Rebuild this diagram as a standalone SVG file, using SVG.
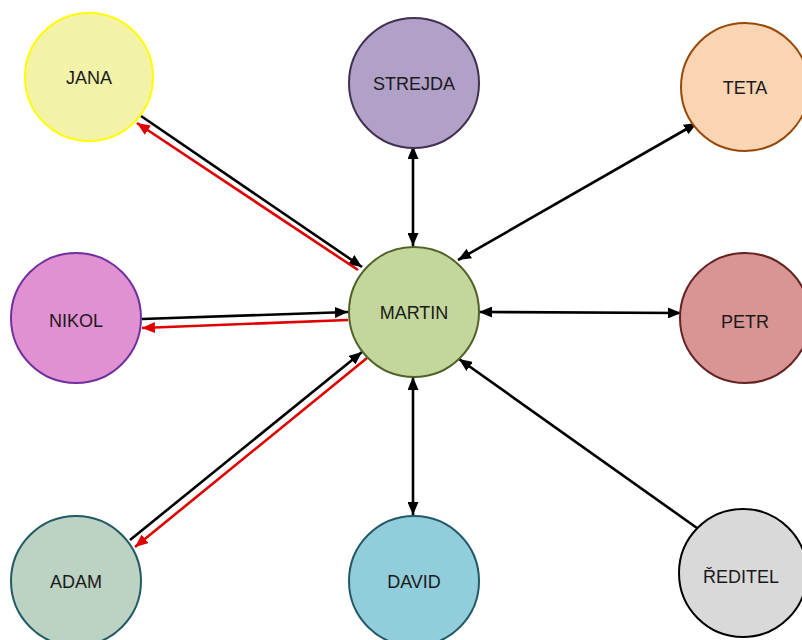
<svg xmlns="http://www.w3.org/2000/svg" width="802" height="640" viewBox="0 0 802 640">
<defs>
<marker id="ab" viewBox="0 0 13 11" refX="13" refY="5.5" markerWidth="13" markerHeight="11" markerUnits="userSpaceOnUse" orient="auto-start-reverse"><path d="M0,0 L13,5.5 L0,11 Z" fill="#000"/></marker>
<marker id="ar" viewBox="0 0 13 11" refX="13" refY="5.5" markerWidth="13" markerHeight="11" markerUnits="userSpaceOnUse" orient="auto-start-reverse"><path d="M0,0 L13,5.5 L0,11 Z" fill="#e00000"/></marker>
</defs>
<style>
.n circle{stroke-width:2}
.n text{font-family:"Liberation Sans",Arial,sans-serif;font-size:18px;fill:#1a1a1a;text-anchor:middle;dominant-baseline:central}
.k{stroke:#000;stroke-width:2.6;fill:none}
.r{stroke:#e00000;stroke-width:2.6;fill:none}
</style>
<rect width="802" height="640" fill="#fff"/>
<g id="connectors">
<line class="k" x1="141" y1="116" x2="362" y2="267" marker-end="url(#ab)"/>
<line class="r" x1="358" y1="270" x2="137" y2="123" marker-end="url(#ar)"/>
<line class="k" x1="142" y1="319" x2="348" y2="312" marker-end="url(#ab)"/>
<line class="r" x1="348" y1="320" x2="142" y2="328" marker-end="url(#ar)"/>
<line class="k" x1="130" y1="540" x2="362" y2="352" marker-end="url(#ab)"/>
<line class="r" x1="367" y1="358" x2="135" y2="547" marker-end="url(#ar)"/>
<line class="k" x1="413" y1="146" x2="413" y2="246" marker-start="url(#ab)" marker-end="url(#ab)"/>
<line class="k" x1="413" y1="377" x2="413" y2="515" marker-start="url(#ab)" marker-end="url(#ab)"/>
<line class="k" x1="458" y1="260" x2="697" y2="123" marker-start="url(#ab)" marker-end="url(#ab)"/>
<line class="k" x1="479" y1="312" x2="681" y2="313" marker-start="url(#ab)" marker-end="url(#ab)"/>
<line class="k" x1="697" y1="528" x2="459" y2="359" marker-end="url(#ab)"/>
</g>
<g id="jana" class="n"><circle cx="89" cy="77" r="64" fill="#f2f2a8" stroke="#ffff00"/><text x="89" y="78">JANA</text></g>
<g id="strejda" class="n"><circle cx="414" cy="83" r="65" fill="#b1a0c7" stroke="#403152"/><text x="414" y="84">STREJDA</text></g>
<g id="teta" class="n"><circle cx="745" cy="87" r="64" fill="#fbd4b4" stroke="#984807"/><text x="745" y="88">TETA</text></g>
<g id="nikol" class="n"><circle cx="76" cy="318" r="65" fill="#e191d2" stroke="#7030a0"/><text x="76" y="321">NIKOL</text></g>
<g id="martin" class="n"><circle cx="414" cy="312" r="65" fill="#c3d69b" stroke="#4f6228"/><text x="414" y="313">MARTIN</text></g>
<g id="petr" class="n"><circle cx="745" cy="318" r="65" fill="#d99594" stroke="#632423"/><text x="745" y="322">PETR</text></g>
<g id="adam" class="n"><circle cx="76" cy="581" r="65" fill="#bcd2c2" stroke="#215967"/><text x="76" y="582">ADAM</text></g>
<g id="david" class="n"><circle cx="414" cy="581" r="65" fill="#92cddc" stroke="#215968"/><text x="414" y="582">DAVID</text></g>
<g id="reditel" class="n"><circle cx="743" cy="573" r="64" fill="#d9d9d9" stroke="#000"/><text x="741" y="577">ŘEDITEL</text></g>
</svg>
